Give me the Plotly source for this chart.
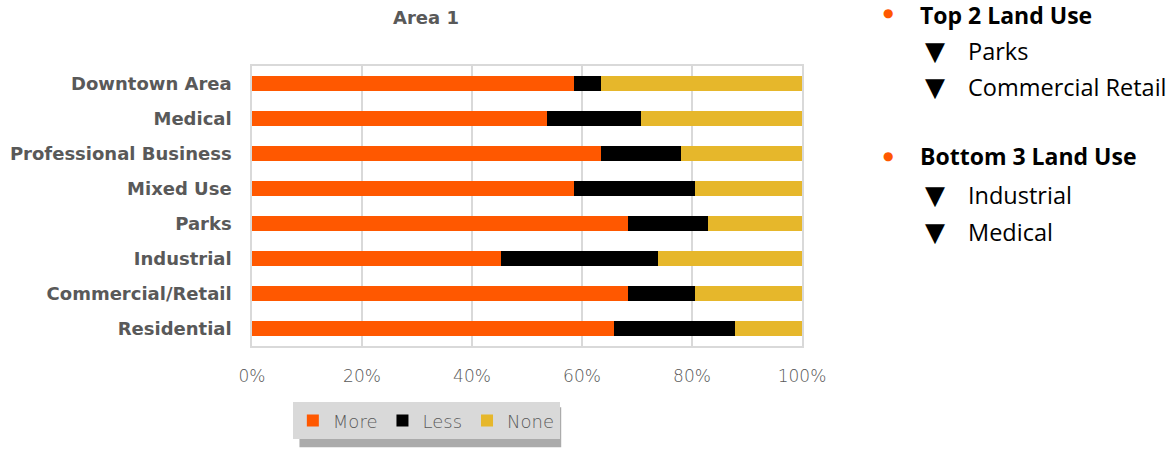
import plotly.graph_objects as go

categories = ["Downtown Area", "Medical", "Professional Business", "Mixed Use",
              "Parks", "Industrial", "Commercial/Retail", "Residential"]
more = [58.5, 53.7, 63.4, 58.5, 68.3, 45.3, 68.3, 65.9]
less = [4.9, 17.0, 14.6, 22.0, 14.6, 28.5, 12.2, 21.9]
none = [36.6, 29.3, 22.0, 19.5, 17.1, 26.2, 19.5, 12.2]
series_names = ["More", "Less", "None"]
colors = ["#FF5800", "#000000", "#E6B72B"]
x_ticks = [0, 20, 40, 60, 80, 100]

W, H = 1168, 453
L, R, T, B = 251.5, 802, 65.5, 346.5

def px(x):
    return (x - L) / (R - L)

def py(y):
    return (B - y) / (B - T)

fig = go.Figure()
for name, vals, col in zip(series_names, [more, less, none], colors):
    fig.add_trace(go.Bar(
        y=categories, x=vals, name=name, orientation="h",
        marker=dict(color=col, line=dict(width=0)),
    ))

fig.update_layout(
    width=W, height=H,
    barmode="stack", bargap=0.57,
    margin=dict(l=L, r=W - R, t=T, b=H - B, pad=0),
    paper_bgcolor="white", plot_bgcolor="white",
    title=dict(text="<b>Area 1</b>", x=426 / W, xanchor="center", y=1 - 18 / H, yanchor="middle",
               font=dict(family="DejaVu Sans", size=18, color="#595959")),
    xaxis=dict(range=[0, 100], tickvals=x_ticks, ticktext=[f"{v}%" for v in x_ticks],
               showgrid=True, gridcolor="#D9D9D9", gridwidth=1.5,
               showline=True, linecolor="#D9D9D9", linewidth=1.5, mirror=True,
               zeroline=False, ticks="", ticklabelstandoff=14, automargin=False,
               tickfont=dict(family="DejaVu Sans", size=17, color="#595959", weight=200)),
    yaxis=dict(autorange="reversed", showgrid=False, showline=True, linecolor="#D9D9D9",
               linewidth=1.5, mirror=True, ticks="", ticklabelstandoff=15, automargin=False,
               tickfont=dict(family="DejaVu Sans", size=18, color="#595959", weight="bold")),
    legend=dict(orientation="h", x=px(426), xanchor="center", y=py(403), yanchor="top",
                bgcolor="#D9D9D9", borderwidth=0,
                font=dict(family="DejaVu Sans", size=18, color="#595959", weight=200),
                itemsizing="constant", traceorder="normal", itemwidth=30),
    showlegend=True,
)

# legend drop shadow
fig.add_shape(type="rect", xref="paper", yref="paper",
              x0=px(299), x1=px(561), y0=py(448), y1=py(408),
              fillcolor="#ABABAB", line=dict(width=0), layer="above")

# right-side notes
notes = [
    (888, 12, "●", "center", "#FF5800", 12, "DejaVu Sans"),
    (918, 14, "<b>Top 2 Land Use</b>", "left", "#000000", 23, "Open Sans"),
    (935, 50, "▼", "center", "#000000", 26, "DejaVu Sans"),
    (966, 50, "Parks", "left", "#000000", 23.5, "Open Sans"),
    (935, 87, "▼", "center", "#000000", 26, "DejaVu Sans"),
    (966, 87, "Commercial Retail", "left", "#000000", 23.5, "Open Sans"),
    (888, 156, "●", "center", "#FF5800", 12, "DejaVu Sans"),
    (918, 156, "<b>Bottom 3 Land Use</b>", "left", "#000000", 23, "Open Sans"),
    (935, 195, "▼", "center", "#000000", 26, "DejaVu Sans"),
    (966, 195, "Industrial", "left", "#000000", 23.5, "Open Sans"),
    (935, 232, "▼", "center", "#000000", 26, "DejaVu Sans"),
    (966, 232, "Medical", "left", "#000000", 23.5, "Open Sans"),
]
for x, y, txt, anchor, col, size, fam in notes:
    fig.add_annotation(x=px(x), y=py(y), xref="paper", yref="paper",
                       text=txt, showarrow=False, xanchor=anchor, yanchor="middle",
                       font=dict(family=fam, size=size, color=col))

fig.write_html("out.html")
